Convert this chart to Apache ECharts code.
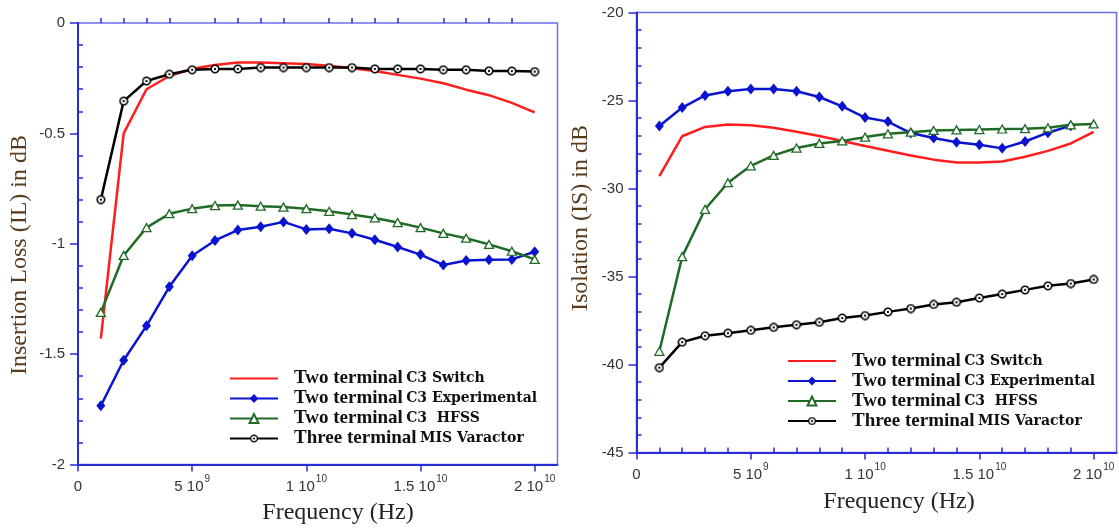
<!DOCTYPE html>
<html><head><meta charset="utf-8">
<script src="https://cdn.jsdelivr.net/npm/echarts@6/dist/echarts.min.js"></script>
<style>html,body{margin:0;padding:0;background:#fff}#c{width:1119px;height:529px}</style>
</head><body><div id="c"></div>
<script>
// ---------- data ----------
const freq = [1e9,2e9,3e9,4e9,5e9,6e9,7e9,8e9,9e9,1e10,1.1e10,1.2e10,1.3e10,1.4e10,1.5e10,1.6e10,1.7e10,1.8e10,1.9e10,2e10];

const legendBig   = ['Two terminal','Two terminal','Two terminal','Three terminal'];
const legendSmall = ['C3 Switch','C3 Experimental','C3  HFSS','MIS Varactor'];

// Insertion loss (dB)
const ilSwitch = [-1.43,-0.50,-0.30,-0.24,-0.207,-0.19,-0.179,-0.179,-0.182,-0.186,-0.194,-0.205,-0.217,-0.235,-0.252,-0.273,-0.302,-0.327,-0.362,-0.405];
const ilExp    = [-1.734,-1.528,-1.372,-1.195,-1.054,-0.985,-0.938,-0.923,-0.901,-0.935,-0.932,-0.953,-0.982,-1.015,-1.049,-1.096,-1.076,-1.073,-1.071,-1.036];
const ilHfss   = [-1.311,-1.053,-0.927,-0.864,-0.841,-0.827,-0.825,-0.830,-0.834,-0.841,-0.853,-0.868,-0.883,-0.904,-0.927,-0.953,-0.975,-1.003,-1.034,-1.071];
const ilMis    = [-0.80,-0.354,-0.263,-0.232,-0.212,-0.208,-0.208,-0.202,-0.202,-0.202,-0.202,-0.202,-0.208,-0.208,-0.208,-0.212,-0.212,-0.217,-0.218,-0.22];

// Isolation (dB)
const isSwitch = [-29.3,-27.03,-26.5,-26.37,-26.41,-26.55,-26.78,-27.02,-27.3,-27.58,-27.86,-28.13,-28.36,-28.52,-28.52,-28.47,-28.2,-27.86,-27.44,-26.78];
const isExp    = [-26.45,-25.4,-24.71,-24.47,-24.34,-24.34,-24.47,-24.8,-25.33,-25.97,-26.2,-26.85,-27.13,-27.37,-27.52,-27.72,-27.33,-26.83,-26.43];
const isHfss   = [-39.25,-33.87,-31.18,-29.67,-28.71,-28.12,-27.7,-27.44,-27.3,-27.08,-26.89,-26.8,-26.7,-26.67,-26.65,-26.62,-26.6,-26.55,-26.38,-26.33];
const isMis    = [-40.18,-38.73,-38.37,-38.22,-38.06,-37.89,-37.74,-37.6,-37.36,-37.22,-37.01,-36.82,-36.59,-36.46,-36.22,-36.0,-35.76,-35.53,-35.4,-35.17];

// ticks
const xMajor    = [0,5e9,1e10,1.5e10,2e10];
const xMantissa = ['0','5','1','1.5','2'];
const xExponent = ['','9','10','10','10'];
const yMajorIL  = [-2,-1.5,-1,-0.5,0];
const yMajorIS  = [-45,-40,-35,-30,-25,-20];

// ---------- styling ----------
const SANS = '"Liberation Sans", Arial, sans-serif';
const SERIF = '"Liberation Serif", "Times New Roman", serif';
const AX = '#2a2ad8';
const BORDER = '#6c6cea';
const RED = '#ff1e1e', BLUE = '#0a14d0', GREEN = '#1f6b26', BLACK = '#000';

const names = legendBig.map((b,i)=>b+' '+legendSmall[i]);

function circleDotImg(){
  const c=document.createElement('canvas'); c.width=c.height=40;
  const g=c.getContext('2d');
  g.beginPath(); g.arc(20,20,15,0,2*Math.PI); g.fillStyle='#fff'; g.fill();
  g.lineWidth=6; g.strokeStyle='#000'; g.stroke();
  g.beginPath(); g.arc(20,20,4.5,0,2*Math.PI); g.fillStyle='#000'; g.fill();
  return 'image://'+c.toDataURL();
}
const circSym = circleDotImg();

function minorVals(min,max,step,majorStep){
  const out=[]; const n=Math.round((max-min)/step);
  for(let i=1;i<n;i++){ const v=min+i*step; const r=v/majorStep; if(Math.abs(r-Math.round(r))>1e-6) out.push(+v.toPrecision(10)); }
  return out;
}

function xFmt(v){
  let i=-1; xMajor.forEach((m,k)=>{ if(Math.abs(m-v)<1) i=k; });
  if(i<0) return '';
  return xExponent[i] ? '{m|'+xMantissa[i]+' 10}{e|'+xExponent[i]+'}' : '{m|'+xMantissa[i]+'}';
}
const xRich = {
  m:{fontFamily:SANS,fontSize:15,color:'#333',lineHeight:20,verticalAlign:'bottom'},
  e:{fontFamily:SANS,fontSize:10,color:'#333',lineHeight:20,verticalAlign:'top',padding:[0,0,0,1]}
};

const gridL = {left:78, top:23, width:479.5, height:441.5};
const gridR = {left:636.5, top:12.5, width:480, height:440};

function mainX(gi){
  return {type:'value', gridIndex:gi, min:0, max:2.1e10,
    axisLine:{show:true,onZero:false,lineStyle:{color:AX,width:2}},
    axisTick:{show:true,inside:false,length:7,customValues:xMajor,lineStyle:{color:AX,width:1.5}},
    axisLabel:{show:true,customValues:xMajor,margin:10,formatter:xFmt,rich:xRich},
    splitLine:{show:false}};
}
function minorX(gi){
  return {type:'value', gridIndex:gi, min:0, max:2.1e10,
    axisLine:{show:false},
    axisTick:{show:true,inside:true,length:5,customValues:minorVals(0,2e10,1e9,5e9),lineStyle:{color:AX,width:1.5}},
    axisLabel:{show:false}, splitLine:{show:false}};
}
function mainY(gi,min,max,interval){
  return {type:'value', gridIndex:gi, min:min, max:max, interval:interval,
    axisLine:{show:true,onZero:false,lineStyle:{color:AX,width:2}},
    axisTick:{show:true,inside:false,length:8,lineStyle:{color:AX,width:1.5}},
    axisLabel:{show:true,margin:13,fontFamily:SANS,fontSize:15,color:'#333'},
    splitLine:{show:false}};
}
function minorY(gi,min,max,step,major){
  return {type:'value', gridIndex:gi, min:min, max:max,
    axisLine:{show:false},
    axisTick:{show:true,inside:true,length:5,customValues:minorVals(min,max,step,major),lineStyle:{color:AX,width:1.5}},
    axisLabel:{show:false}, splitLine:{show:false}};
}

function pts(arr){ return arr.map((v,i)=>[freq[i],v]); }

function seriesSet(gi, sw, ex, hf, mis){
  return [
    {name:names[0], type:'line', xAxisIndex:gi, yAxisIndex:gi, data:pts(sw), symbol:'none',
      lineStyle:{color:RED,width:2.5}, itemStyle:{color:RED}, z:2},
    {name:names[1], type:'line', xAxisIndex:gi, yAxisIndex:gi, data:pts(ex), symbol:'diamond', symbolSize:[9,11],
      lineStyle:{color:BLUE,width:2.5}, itemStyle:{color:BLUE}, z:3},
    {name:names[2], type:'line', xAxisIndex:gi, yAxisIndex:gi, data:pts(hf), symbol:'triangle', symbolSize:[9,8],
      lineStyle:{color:GREEN,width:2.5}, itemStyle:{color:'#fff',borderColor:GREEN,borderWidth:1.3}, z:4},
    {name:names[3], type:'line', xAxisIndex:gi, yAxisIndex:gi, data:pts(mis), symbol:circSym, symbolSize:10,
      lineStyle:{color:BLACK,width:2.5}, itemStyle:{color:BLACK}, z:5}
  ];
}

function legendFmt(name){
  const i = names.indexOf(name);
  return '{a|'+legendBig[i]+'} {b|'+legendSmall[i]+'}';
}
function mkLegend(left, top){
  const data = names.map((n,i)=> i===0
    ? {name:n, itemStyle:{color:'rgba(0,0,0,0)', borderWidth:0, opacity:0}}
    : {name:n});
  return {data:data, orient:'vertical', left:left, top:top, padding:0, itemGap:1,
    itemWidth:48, itemHeight:11, selectedMode:false, formatter:legendFmt,
    textStyle:{rich:{
      a:{fontFamily:SERIF,fontWeight:'bold',fontSize:19,color:'#111',lineHeight:19.6,padding:[0,0,0,11]},
      b:{fontFamily:'"DejaVu Serif", serif',fontWeight:'bold',fontSize:14,color:'#111',lineHeight:19.6}
    }}};
}

function title(x,y,text,rot,color){
  return {type:'text', x:x, y:y, rotation:rot, silent:true,
    style:{text:text, fontFamily:SERIF, fontSize:24, fill:color, align:'center', verticalAlign:'middle'}};
}

const option = {
  animation:false,
  backgroundColor:'#fff',
  grid:[
    Object.assign({show:true,borderColor:BORDER,borderWidth:1.5,backgroundColor:'transparent'},gridL),
    Object.assign({},gridL),
    Object.assign({show:true,borderColor:BORDER,borderWidth:1.5,backgroundColor:'transparent'},gridR),
    Object.assign({},gridR)
  ],
  xAxis:[mainX(0), minorX(1), mainX(2), minorX(3)],
  yAxis:[mainY(0,-2,0,0.5), minorY(1,-2,0,0.1,0.5), mainY(2,-45,-20,5), minorY(3,-45,-20,1,5)],
  legend:[mkLegend(229,369), mkLegend(787,351.5)],
  series:[].concat(
    seriesSet(0, ilSwitch, ilExp, ilHfss, ilMis),
    seriesSet(2, isSwitch, isExp, isHfss, isMis)
  ),
  graphic:[
    title(19.5,255,'Insertion Loss (IL) in dB',Math.PI/2,'#5a3a1c'),
    title(338,513,'Frequency (Hz)',0,'#222'),
    title(581,218,'Isolation (IS) in dB',Math.PI/2,'#5a3a1c'),
    title(899,502,'Frequency (Hz)',0,'#222')
  ]
};

const chart = echarts.init(document.getElementById('c'), null, {renderer:'canvas'});
chart.setOption(option);
</script>
</body></html>
